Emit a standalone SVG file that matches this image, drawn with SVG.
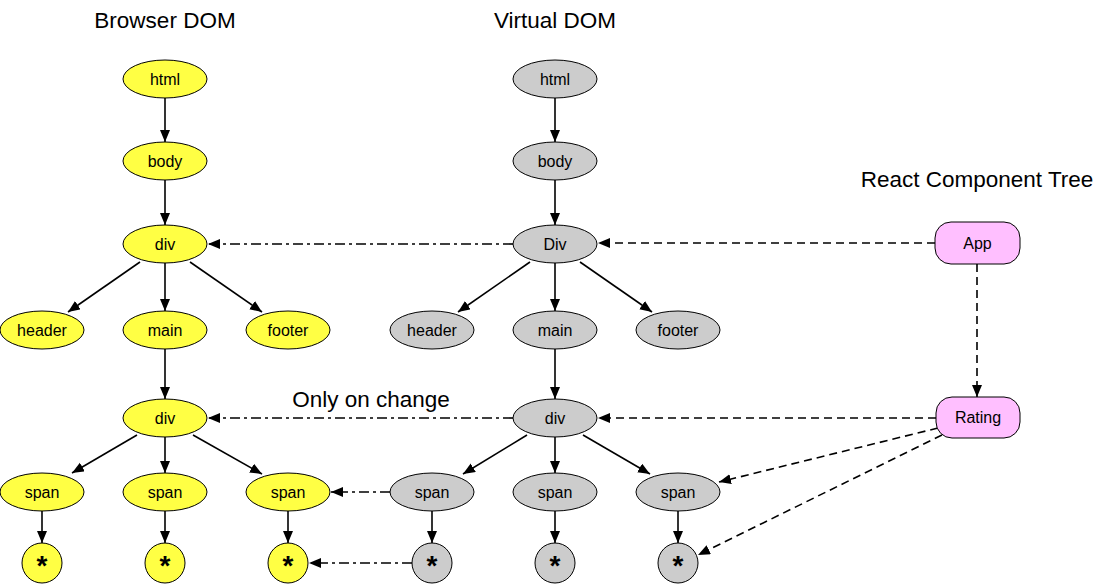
<svg xmlns="http://www.w3.org/2000/svg" width="1103" height="586" viewBox="0 0 1103 586">
<defs>
<marker id="ah" markerUnits="userSpaceOnUse" markerWidth="13" markerHeight="11" refX="12" refY="5" orient="auto">
<path d="M0,0 L12,5 L0,10 z" fill="#000"/>
</marker>
</defs>
<style>
.t{font-family:"Liberation Sans",Arial,sans-serif;fill:#000}
.title{font-size:22.5px;text-anchor:middle}
.lbl{font-size:16px;text-anchor:middle;dominant-baseline:central}
.ast{font-size:28px;font-weight:bold;text-anchor:middle}
.y{fill:#ffff44;stroke:#000;stroke-width:1}
.g{fill:#cccccc;stroke:#000;stroke-width:1}
.p{fill:#ffbfff;stroke:#000;stroke-width:1}
.s{stroke:#000;stroke-width:1.6;fill:none;marker-end:url(#ah)}
.d{stroke:#000;stroke-width:1.6;fill:none;stroke-dasharray:8 5;marker-end:url(#ah)}
.dd{stroke:#000;stroke-width:1.6;fill:none;stroke-dasharray:10 4 3 4;marker-end:url(#ah)}
</style>
<rect width="1103" height="586" fill="#fff"/>
<text class="t title" x="165" y="28">Browser DOM</text>
<text class="t title" x="555" y="28">Virtual DOM</text>
<text class="t title" x="977" y="187">React Component Tree</text>
<text class="t title" x="371" y="407">Only on change</text>

<g id="connectors">
<line class="s" x1="165" y1="98" x2="165" y2="142"/>
<line class="s" x1="165" y1="180" x2="165" y2="225"/>
<line class="s" x1="140" y1="262" x2="68" y2="312"/>
<line class="s" x1="165" y1="263" x2="165" y2="311"/>
<line class="s" x1="190" y1="262" x2="262" y2="312"/>
<line class="s" x1="165" y1="349" x2="165" y2="399"/>
<line class="s" x1="137" y1="435" x2="72" y2="473"/>
<line class="s" x1="165" y1="437" x2="165" y2="473"/>
<line class="s" x1="193" y1="435" x2="262" y2="474"/>
<line class="s" x1="42" y1="511" x2="42" y2="543"/>
<line class="s" x1="165" y1="511" x2="165" y2="543"/>
<line class="s" x1="288" y1="511" x2="288" y2="543"/>
<line class="s" x1="555" y1="98" x2="555" y2="142"/>
<line class="s" x1="555" y1="180" x2="555" y2="225"/>
<line class="s" x1="530" y1="262" x2="458" y2="312"/>
<line class="s" x1="555" y1="263" x2="555" y2="311"/>
<line class="s" x1="580" y1="262" x2="652" y2="312"/>
<line class="s" x1="555" y1="349" x2="555" y2="399"/>
<line class="s" x1="527" y1="435" x2="463" y2="474"/>
<line class="s" x1="555" y1="437" x2="555" y2="473"/>
<line class="s" x1="583" y1="435" x2="650" y2="474"/>
<line class="s" x1="432" y1="511" x2="432" y2="543"/>
<line class="s" x1="555" y1="511" x2="555" y2="543"/>
<line class="s" x1="678" y1="511" x2="678" y2="543"/>
<line class="dd" x1="513" y1="244" x2="208" y2="244"/>
<line class="dd" x1="513" y1="418" x2="208" y2="418"/>
<line class="dd" x1="390" y1="492" x2="331" y2="492"/>
<line class="dd" x1="412" y1="563" x2="309" y2="563"/>
<line class="d" x1="935" y1="243" x2="598" y2="243"/>
<line class="d" x1="977" y1="264" x2="977" y2="397"/>
<line class="d" x1="936" y1="418" x2="598" y2="418"/>
<line class="d" x1="938" y1="428" x2="719" y2="482"/>
<line class="d" x1="942" y1="435" x2="698" y2="555"/>
</g>

<g id="b-html"><ellipse class="y" cx="165" cy="79" rx="42" ry="19"/><text class="t lbl" x="165" y="79">html</text></g>
<g id="b-body"><ellipse class="y" cx="165" cy="161" rx="42" ry="19"/><text class="t lbl" x="165" y="161">body</text></g>
<g id="b-div"><ellipse class="y" cx="165" cy="244" rx="42" ry="19"/><text class="t lbl" x="165" y="244">div</text></g>
<g id="b-header"><ellipse class="y" cx="42" cy="330" rx="42" ry="19"/><text class="t lbl" x="42" y="330">header</text></g>
<g id="b-main"><ellipse class="y" cx="165" cy="330" rx="42" ry="19"/><text class="t lbl" x="165" y="330">main</text></g>
<g id="b-footer"><ellipse class="y" cx="288" cy="330" rx="42" ry="19"/><text class="t lbl" x="288" y="330">footer</text></g>
<g id="b-div2"><ellipse class="y" cx="165" cy="418" rx="42" ry="19"/><text class="t lbl" x="165" y="418">div</text></g>
<g id="b-span1"><ellipse class="y" cx="42" cy="492" rx="42" ry="19"/><text class="t lbl" x="42" y="492">span</text></g>
<g id="b-span2"><ellipse class="y" cx="165" cy="492" rx="42" ry="19"/><text class="t lbl" x="165" y="492">span</text></g>
<g id="b-span3"><ellipse class="y" cx="288" cy="492" rx="42" ry="19"/><text class="t lbl" x="288" y="492">span</text></g>
<g id="b-star1"><circle class="y" cx="42" cy="563" r="20"/><text class="t ast" x="42" y="575">*</text></g>
<g id="b-star2"><circle class="y" cx="165" cy="563" r="20"/><text class="t ast" x="165" y="575">*</text></g>
<g id="b-star3"><circle class="y" cx="288" cy="563" r="20"/><text class="t ast" x="288" y="575">*</text></g>

<g id="v-html"><ellipse class="g" cx="555" cy="79" rx="42" ry="19"/><text class="t lbl" x="555" y="79">html</text></g>
<g id="v-body"><ellipse class="g" cx="555" cy="161" rx="42" ry="19"/><text class="t lbl" x="555" y="161">body</text></g>
<g id="v-div"><ellipse class="g" cx="555" cy="244" rx="42" ry="19"/><text class="t lbl" x="555" y="244">Div</text></g>
<g id="v-header"><ellipse class="g" cx="432" cy="330" rx="42" ry="19"/><text class="t lbl" x="432" y="330">header</text></g>
<g id="v-main"><ellipse class="g" cx="555" cy="330" rx="42" ry="19"/><text class="t lbl" x="555" y="330">main</text></g>
<g id="v-footer"><ellipse class="g" cx="678" cy="330" rx="42" ry="19"/><text class="t lbl" x="678" y="330">footer</text></g>
<g id="v-div2"><ellipse class="g" cx="555" cy="418" rx="42" ry="19"/><text class="t lbl" x="555" y="418">div</text></g>
<g id="v-span1"><ellipse class="g" cx="432" cy="492" rx="42" ry="19"/><text class="t lbl" x="432" y="492">span</text></g>
<g id="v-span2"><ellipse class="g" cx="555" cy="492" rx="42" ry="19"/><text class="t lbl" x="555" y="492">span</text></g>
<g id="v-span3"><ellipse class="g" cx="678" cy="492" rx="42" ry="19"/><text class="t lbl" x="678" y="492">span</text></g>
<g id="v-star1"><circle class="g" cx="432" cy="563" r="20"/><text class="t ast" x="432" y="575">*</text></g>
<g id="v-star2"><circle class="g" cx="555" cy="563" r="20"/><text class="t ast" x="555" y="575">*</text></g>
<g id="v-star3"><circle class="g" cx="678" cy="563" r="20"/><text class="t ast" x="678" y="575">*</text></g>

<g id="r-app"><rect class="p" x="935" y="222" width="85" height="42" rx="16"/><text class="t lbl" x="977.5" y="243">App</text></g>
<g id="r-rating"><rect class="p" x="936" y="397" width="84" height="41" rx="16"/><text class="t lbl" x="978" y="417.5">Rating</text></g>
</svg>
